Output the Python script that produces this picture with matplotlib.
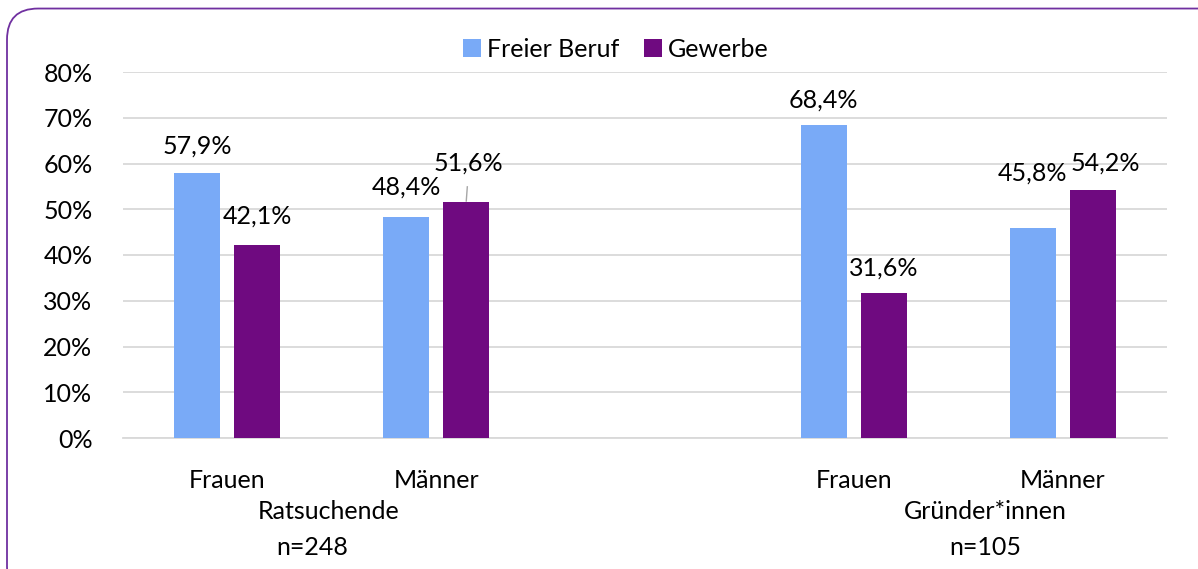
import numpy as np
import matplotlib.pyplot as plt
from matplotlib.patches import FancyBboxPatch

# =========================
# DATA
# =========================
categories = ["Frauen", "Männer", "", "Frauen", "Männer"]
freier_beruf = [57.9, 48.4, np.nan, 68.4, 45.8]
gewerbe = [42.1, 51.6, np.nan, 31.6, 54.2]
group_names = ["Ratsuchende", "Gründer*innen"]
group_n = ["n=248", "n=105"]

BLUE = "#79AAF7"
PURPLE = "#6F0A80"
GRID = "#D9D9D9"
FS = 18

plt.rcParams["font.family"] = ["Lato", "DejaVu Sans"]

# =========================
# FIGURE
# =========================
fig = plt.figure(figsize=(11.98, 5.69), dpi=100)
ax = fig.add_axes([123 / 1198, 1 - 438 / 569, 1044 / 1198, 366 / 569])

# rounded frame
frame = FancyBboxPatch((7 / 1198, -0.05), 1.2, 1.035, transform=fig.transFigure,
                       boxstyle="round,pad=0,rounding_size=0.026",
                       fc="none", ec="#7030A0", lw=1.3, mutation_aspect=2.1)
fig.patches.append(frame)

x = np.arange(len(categories))
w = 0.22
off = 0.144
ax.bar(x - off, freier_beruf, w, color=BLUE, label="Freier Beruf", zorder=3)
ax.bar(x + off, gewerbe, w, color=PURPLE, label="Gewerbe", zorder=3)

ax.set_xlim(-0.5, len(categories) - 0.5)
ax.set_ylim(0, 80)
ax.set_yticks(np.arange(0, 81, 10))
ax.set_yticklabels([f"{v}%" for v in range(0, 81, 10)], fontsize=FS)
ax.yaxis.grid(True, color=GRID, lw=1.3, zorder=0)
ax.tick_params(axis="y", length=0, pad=22)
ax.tick_params(axis="x", length=0)
for s in ["top", "right", "left"]:
    ax.spines[s].set_visible(False)
ax.spines["bottom"].set_color(GRID)
ax.spines["bottom"].set_linewidth(1.3)
ax.set_xticks(x)
ax.set_xticklabels(categories, fontsize=FS)
ax.tick_params(axis="x", pad=22)

def fmt(v):
    return f"{v:.1f}%".replace(".", ",")

# label offsets (dx in slots, dy in %-points)
dx1 = [0, 0, 0, 0, 0]
dy1 = [6.0, 6.5, 0, 5.5, 12.0]
dx2 = [0, 0.01, 0, 0, 0.06]
dy2 = [6.5, 8.5, 0, 5.5, 6.0]
for i in range(len(categories)):
    if np.isnan(freier_beruf[i]):
        continue
    ax.text(x[i] - off + dx1[i], freier_beruf[i] + dy1[i], fmt(freier_beruf[i]),
            ha="center", va="center", fontsize=FS)
    ax.text(x[i] + off + dx2[i], gewerbe[i] + dy2[i], fmt(gewerbe[i]),
            ha="center", va="center", fontsize=FS)

# leader line for Gewerbe / Männer (Ratsuchende)
ax.plot([x[1] + off, x[1] + off + 0.005], [gewerbe[1] + 0.2, gewerbe[1] + 3.3],
        color="#A6A6A6", lw=1, zorder=4)

# group labels
trans = ax.get_xaxis_transform()
name_x = [0.487, 3.63]
n_x = [0.405, 3.63]
for i in range(len(group_names)):
    ax.text(name_x[i], -0.202, group_names[i], transform=trans,
            ha="center", va="center", fontsize=FS)
    ax.text(n_x[i], -0.30, group_n[i], transform=trans,
            ha="center", va="center", fontsize=FS)

ax.legend(loc="center", bbox_to_anchor=(0.472, 1.062), ncol=2, frameon=False,
          fontsize=FS, handlelength=0.7, handleheight=0.7, handletextpad=0.25,
          columnspacing=1.0)

fig.savefig("out.png", dpi=100)
